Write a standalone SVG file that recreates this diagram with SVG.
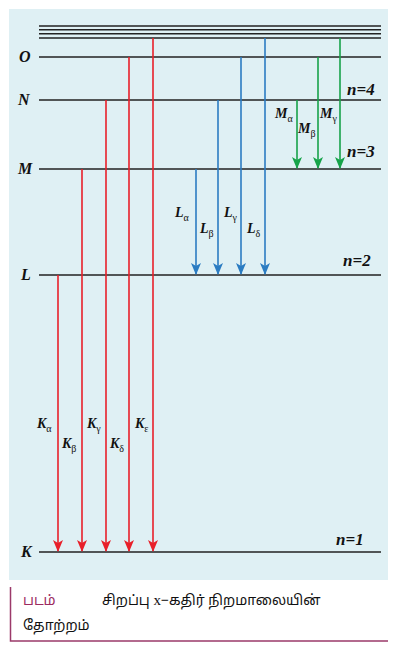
<svg xmlns="http://www.w3.org/2000/svg" width="402" height="652" viewBox="0 0 402 652">
<style>
.lvl{stroke:#222;stroke-width:1.6;fill:none}
.r{stroke:#e8202a;stroke-width:1.6;fill:none}
.b{stroke:#2b7cc2;stroke-width:1.6;fill:none}
.g{stroke:#17a34a;stroke-width:1.6;fill:none}
.lab{font-family:"Liberation Serif",serif;font-weight:bold;font-style:italic;font-size:16px;fill:#111}
.sl{font-family:"Liberation Serif",serif;font-weight:bold;font-style:italic;font-size:14px;fill:#111}
.sub{font-family:"Liberation Serif",serif;font-size:10px;font-style:normal;font-weight:normal;fill:#111}
.nl{font-family:"Liberation Serif",serif;font-weight:bold;font-style:italic;font-size:17px;fill:#111}
.cap{font-family:"Noto Sans","Noto Sans Tamil",sans-serif;font-size:14px;fill:#111}
</style>
<defs>
<marker id="ar" viewBox="0 0 10 12" refX="5" refY="11" markerWidth="10" markerHeight="12" markerUnits="userSpaceOnUse">
<path d="M0,0 L5,3 L10,0 L5,12 Z" fill="#e8202a"/>
</marker>
<marker id="ab" viewBox="0 0 10 12" refX="5" refY="11" markerWidth="10" markerHeight="12" markerUnits="userSpaceOnUse">
<path d="M0,0 L5,3 L10,0 L5,12 Z" fill="#2b7cc2"/>
</marker>
<marker id="ag" viewBox="0 0 10 12" refX="5" refY="11" markerWidth="10" markerHeight="12" markerUnits="userSpaceOnUse">
<path d="M0,0 L5,3 L10,0 L5,12 Z" fill="#17a34a"/>
</marker>
</defs>
<rect x="9" y="9" width="379" height="571" fill="#dff0f4"/>
<g id="levels">
<line class="lvl" x1="39" y1="26" x2="381" y2="26"/>
<line class="lvl" x1="39" y1="29.8" x2="381" y2="29.8"/>
<line class="lvl" x1="39" y1="33.8" x2="381" y2="33.8"/>
<line class="lvl" x1="39" y1="38" x2="381" y2="38"/>
<g id="level-O"><line class="lvl" x1="39" y1="57" x2="381" y2="57"/><text class="lab" x="19" y="62">O</text></g>
<g id="level-N"><line class="lvl" x1="39" y1="100" x2="381" y2="100"/><text class="lab" x="18" y="105">N</text><text class="nl" x="347" y="95">n=4</text></g>
<g id="level-M"><line class="lvl" x1="39" y1="169" x2="381" y2="169"/><text class="lab" x="18" y="174">M</text><text class="nl" x="347" y="157">n=3</text></g>
<g id="level-L"><line class="lvl" x1="39" y1="275" x2="381" y2="275"/><text class="lab" x="21" y="280">L</text><text class="nl" x="343" y="266">n=2</text></g>
<g id="level-K"><line class="lvl" x1="39" y1="552" x2="381" y2="552"/><text class="lab" x="21" y="557">K</text><text class="nl" x="336" y="545">n=1</text></g>
</g>
<g id="connectors">
<line class="r" x1="58" y1="275" x2="58" y2="551" marker-end="url(#ar)"/>
<line class="r" x1="82" y1="169" x2="82" y2="551" marker-end="url(#ar)"/>
<line class="r" x1="106" y1="100" x2="106" y2="551" marker-end="url(#ar)"/>
<line class="r" x1="129" y1="57" x2="129" y2="551" marker-end="url(#ar)"/>
<line class="r" x1="153" y1="38" x2="153" y2="551" marker-end="url(#ar)"/>
<line class="b" x1="196" y1="169" x2="196" y2="274" marker-end="url(#ab)"/>
<line class="b" x1="218" y1="100" x2="218" y2="274" marker-end="url(#ab)"/>
<line class="b" x1="241" y1="57" x2="241" y2="274" marker-end="url(#ab)"/>
<line class="b" x1="265" y1="38" x2="265" y2="274" marker-end="url(#ab)"/>
<line class="g" x1="297" y1="100" x2="297" y2="168" marker-end="url(#ag)"/>
<line class="g" x1="318" y1="57" x2="318" y2="168" marker-end="url(#ag)"/>
<line class="g" x1="340" y1="38" x2="340" y2="168" marker-end="url(#ag)"/>
</g>
<g id="labels">
<text class="sl" x="37" y="428">K<tspan class="sub" dy="4">α</tspan></text>
<text class="sl" x="62" y="448">K<tspan class="sub" dy="4">β</tspan></text>
<text class="sl" x="87" y="428">K<tspan class="sub" dy="4">γ</tspan></text>
<text class="sl" x="110" y="448">K<tspan class="sub" dy="4">δ</tspan></text>
<text class="sl" x="135" y="428">K<tspan class="sub" dy="4">ε</tspan></text>
<text class="sl" x="175" y="217">L<tspan class="sub" dy="4">α</tspan></text>
<text class="sl" x="200" y="233">L<tspan class="sub" dy="4">β</tspan></text>
<text class="sl" x="224" y="217">L<tspan class="sub" dy="4">γ</tspan></text>
<text class="sl" x="247" y="233">L<tspan class="sub" dy="4">δ</tspan></text>
<text class="sl" x="275" y="118">M<tspan class="sub" dy="4">α</tspan></text>
<text class="sl" x="298" y="133">M<tspan class="sub" dy="4">β</tspan></text>
<text class="sl" x="320" y="118">M<tspan class="sub" dy="4">γ</tspan></text>
</g>
<g id="caption">
<path d="M10.5,587 V641 H388" fill="none" stroke="#9b3a6a" stroke-width="1.5"/>
<text class="cap" x="23" y="605" style="fill:#9b2a60">படம்</text>
<text class="cap" x="102" y="605">சிறப்பு <tspan style="font-family:'Liberation Serif',serif;font-size:15px">x</tspan>−கதிர் நிறமாலையின்</text>
<text class="cap" x="23" y="630">தோற்றம்</text>
</g>
</svg>
